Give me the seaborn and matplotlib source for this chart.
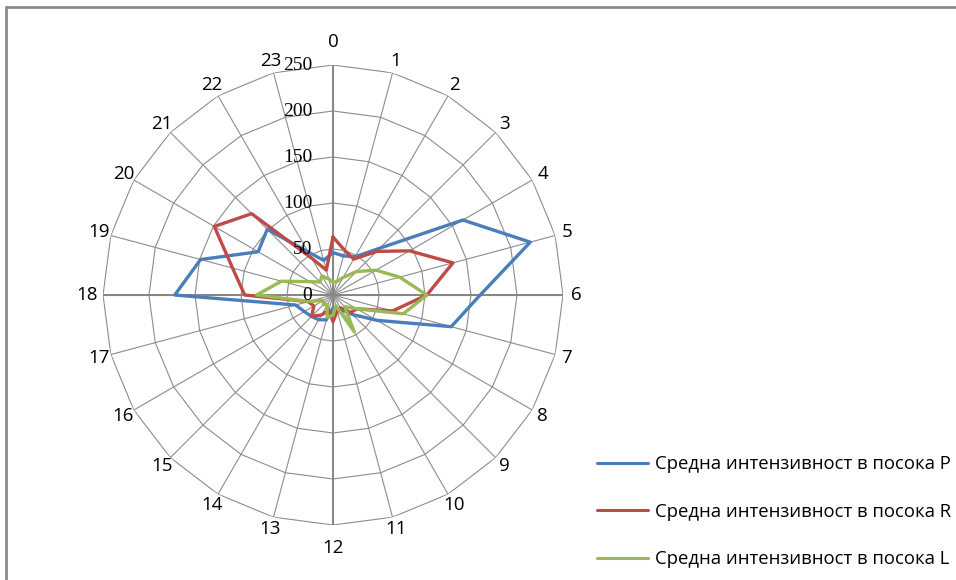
import numpy as np
import pandas as pd
import matplotlib
matplotlib.use("Agg")
import matplotlib.pyplot as plt
from matplotlib.lines import Line2D
import seaborn as sns

# Hours of the day (categories around the radar)
hours = list(range(24))
hour_labels = [str(h) for h in hours]

# Average intensity per hour for each direction
intensity_p = [46, 44, 48, 72, 163, 222, 160, 133, 55, 30, 18, 15,
               14, 28, 31, 33, 36, 42, 172, 149, 94, 101, 54, 39]
intensity_r = [63, 50, 45, 67, 96, 135, 102, 67, 30, 27, 16, 18,
               29, 17, 25, 33, 24, 28, 96, 113, 149, 125, 46, 28]
intensity_l = [14, 15, 22, 36, 54, 75, 102, 79, 30, 18, 46, 12,
               22, 25, 12, 15, 12, 27, 83, 58, 29, 20, 24, 18]

series_names = ["Средна интензивност в посока P",
                "Средна интензивност в посока R",
                "Средна интензивност в посока L"]
series_colors = ["#4A7EBB", "#BE4B48", "#98B954"]
radial_ticks = [0, 50, 100, 150, 200, 250]

sns.set_theme(style="white")
plt.rcParams["font.family"] = ["Open Sans", "DejaVu Sans"]

W, H = 956, 580
fig = plt.figure(figsize=(W / 100, H / 100), dpi=100)
fig.patch.set_facecolor("white")

# polar axes centred on the chart area
cx, cy, R = 333, 295, 230
ax = fig.add_axes([(cx - R) / W, (H - cy - R) / H, 2 * R / W, 2 * R / H],
                  projection="polar")
ax.set_theta_zero_location("N")
ax.set_theta_direction(-1)
ax.set_facecolor("none")

theta = np.deg2rad(np.array(hours) * 360.0 / len(hours))
theta_closed = np.append(theta, 2 * np.pi)

grid_color = "#8c8c8c"
# polygonal rings
for r in radial_ticks[1:]:
    ax.plot(theta_closed, [r] * len(theta_closed), color=grid_color,
            lw=0.8, zorder=1)

# data frame for seaborn (each series closed back to hour 0)
frames = []
for name, vals in zip(series_names, [intensity_p, intensity_r, intensity_l]):
    frames.append(pd.DataFrame({
        "theta": theta_closed,
        "value": list(vals) + [vals[0]],
        "series": name,
    }))
df = pd.concat(frames, ignore_index=True)

sns.lineplot(data=df, x="theta", y="value", hue="series",
             hue_order=series_names,
             palette=dict(zip(series_names, series_colors)),
             sort=False, estimator=None, lw=2.4, ax=ax, zorder=3)

leg = ax.get_legend()
if leg is not None:
    leg.remove()

ax.set_xlabel("")
ax.set_ylabel("")
ax.set_ylim(0, 250)
ax.set_xticks(theta)
ax.set_xticklabels([])
ax.set_yticks([])
ax.grid(True, axis="x", color=grid_color, lw=0.8)
ax.spines["polar"].set_visible(False)
for gl in ax.xaxis.get_gridlines():
    gl.set_zorder(1)

# main vertical / horizontal axes slightly stronger
for t in [0, np.pi / 2, np.pi, 3 * np.pi / 2]:
    ax.plot([t, t], [0, 250], color="#868686", lw=1.4, zorder=1.5)

# hour labels just outside the outer ring
px2pt = 0.72
for lab, t in zip(hour_labels, theta):
    sx, sy = np.sin(t), np.cos(t)
    d = 242.0
    if abs(sy) > 0.99:
        d += 11
    if abs(sx) > 0.99:
        d += 2.5 * (len(lab) - 1) + 1
    off = d - R
    ax.annotate(lab, xy=(t, 250), xytext=(sx * off * px2pt, sy * off * px2pt),
                textcoords="offset points", ha="center", va="center",
                fontsize=13.5, color="black", annotation_clip=False)

# radial value labels
for v in radial_ticks:
    ax.annotate(str(v), xy=(0, v), xytext=(-15, 0),
                textcoords="offset points", ha="right", va="center",
                fontsize=14, family="Liberation Serif", color="black",
                annotation_clip=False)

# legend
handles = [Line2D([0], [0], color=c, lw=2.2) for c in series_colors]
fig.legend(handles, series_names, loc="upper left",
           bbox_to_anchor=(597 / W, 1 - 455 / H), frameon=False,
           fontsize=13.3, handlelength=2.75, handletextpad=0.38,
           labelspacing=1.6, borderaxespad=0, borderpad=0,
           labelcolor="black")

# chart border (top and left edges visible)
fig.add_artist(Line2D([6 / W, 1.0], [1 - 7 / H, 1 - 7 / H],
                      transform=fig.transFigure, color="#8a8a8a", lw=2))
fig.add_artist(Line2D([6 / W, 6 / W], [0, 1 - 7 / H],
                      transform=fig.transFigure, color="#8a8a8a", lw=2))

fig.savefig("out.png", dpi=100)
